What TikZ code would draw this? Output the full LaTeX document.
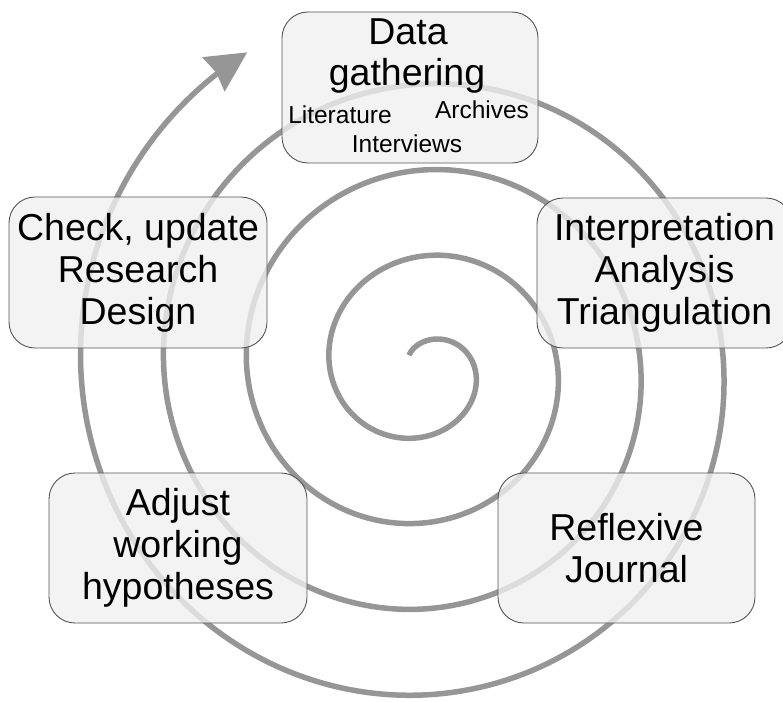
\documentclass[tikz,border=0pt]{standalone}
\usepackage{fontspec}
\setmainfont{Liberation Sans}
\usetikzlibrary{arrows.meta}
\definecolor{spiralgray}{RGB}{150,150,150}
\definecolor{boxfill}{RGB}{240,240,240}
\definecolor{boxline}{RGB}{85,85,85}

\begin{document}
\begin{tikzpicture}[x=1pt,y=-1pt,
  stagebox/.style={draw=boxline, line width=0.9pt, fill=boxfill,
    fill opacity=0.78, text opacity=1, rounded corners=26pt,
    inner sep=0pt, align=center,
    font=\fontsize{37.5}{42}\selectfont},
  bigtext/.style={inner sep=0pt, anchor=base, font=\fontsize{37.5}{42}\selectfont},
  smalltext/.style={inner sep=0pt, anchor=base, font=\fontsize{24.5}{28}\selectfont},
  spiralline/.style={draw=spiralgray, line width=5.5pt,
    -{Stealth[length=40pt,width=40pt,inset=3pt]}}]
\useasboundingbox (0,0) rectangle (783,701);

% the spiral, growing outward clockwise from the centre
\draw[spiralline] plot[domain=-0.11:3.925, samples=500, smooth, variable=\t]
  ({423 + (31+83*\t)*sin(360*\t)}, {368 - (26+86*\t)*cos(360*\t)});

% stages around the spiral
\node[stagebox, minimum width=256pt, minimum height=151pt] (gather) at (410,87.5) {};
\node[bigtext] (gatherA) at (408,45) {Data};
\node[bigtext] (gatherB) at (407,85) {gathering};
\node[smalltext] (lit) at (340,123) {Literature};
\node[smalltext] (arch) at (482,118) {Archives};
\node[smalltext] (interv) at (407,152) {Interviews};

\node[stagebox, minimum width=255pt, minimum height=150pt] (interp) at (664.5,273)
  {Interpretation\\Analysis\\Triangulation};
\node[stagebox, minimum width=257pt, minimum height=150pt] (reflex) at (626.5,548)
  {Reflexive\\Journal};
\node[stagebox, minimum width=258pt, minimum height=150pt] (adjust) at (178,548)
  {Adjust\\working\\hypotheses};
\node[stagebox, minimum width=258pt, minimum height=151pt] (check) at (138,272.5)
  {Check, update\\Research\\Design};
\end{tikzpicture}
\end{document}
